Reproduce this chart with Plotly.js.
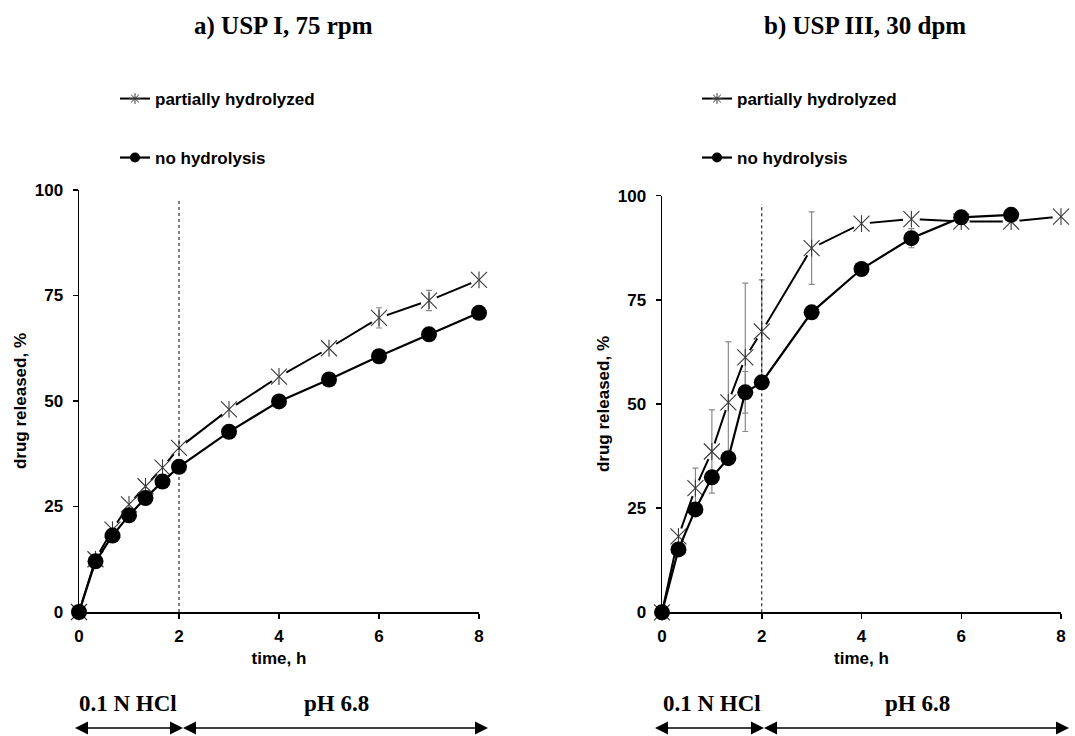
<!DOCTYPE html>
<html>
<head>
<meta charset="utf-8">
<script src="https://cdn.plot.ly/plotly-3.0.1.min.js"></script>
<style>html,body{margin:0;padding:0;background:#fff;}#chart{width:1075px;height:736px;}</style>
</head>
<body>
<div id="chart"></div>
<script>
// ---------- data ----------
const panelTitles = ['a) USP I, 75 rpm', 'b) USP III, 30 dpm'];
const seriesNames = ['partially hydrolyzed', 'no hydrolysis'];
const xTickVals = [0, 2, 4, 6, 8];
const yTickVals = [0, 25, 50, 75, 100];
const xTitle = 'time, h';
const yTitle = 'drug released, %';
const phaseLabels = ['0.1 N HCl', 'pH 6.8'];

const timeA = [0, 0.33, 0.67, 1, 1.33, 1.67, 2, 3, 4, 5, 6, 7, 8];
const partialA = [0, 12.5, 19.5, 25.5, 29.8, 34.2, 38.9, 48.0, 55.8, 62.5, 69.7, 73.8, 78.7];
const partialAErr = [0, 0, 0, 0, 0, 0, 0, 0, 0, 0, 2.4, 2.4, 0];
const noneA = [0, 12.0, 18.1, 22.9, 27.0, 30.9, 34.4, 42.7, 49.9, 55.1, 60.6, 65.8, 70.9];
const noneAErr = [0, 0, 0, 0, 0, 0, 0, 0, 0, 0, 0, 0, 0];

const timeB = [0, 0.33, 0.67, 1, 1.33, 1.67, 2, 3, 4, 5, 6, 7, 8];
const partialB = [0, 18.2, 29.8, 38.6, 50.4, 61.2, 67.4, 87.4, 93.3, 94.4, 93.8, 93.8, 95.0];
const partialBErr = [0, 0, 4.8, 10.0, 14.5, 17.8, 12.4, 8.7, 0, 0, 0, 0, 0];
const timeBNone = [0, 0.33, 0.67, 1, 1.33, 1.67, 2, 3, 4, 5, 6, 7];
const noneB = [0, 15.1, 24.7, 32.4, 37.0, 52.8, 55.2, 72.0, 82.4, 89.8, 94.8, 95.4];
const noneBErr = [0, 0, 0, 0, 0, 5.0, 0, 0, 0, 2.3, 0, 0];

// ---------- styling helpers ----------
const W = 1075, H = 736;
const fx = p => p / W;
const fy = p => 1 - p / H;
const SANS = 'Liberation Sans, Arial, sans-serif';
const SERIF = 'Liberation Serif, Times New Roman, serif';
const STAR_COL = '#3a3a3a';
const ERR_COL = '#8a8a8a';

function errSubset(x, y, e) {
  const xs = [], ys = [], es = [];
  for (let i = 0; i < x.length; i++) if (e[i] > 0) { xs.push(x[i]); ys.push(y[i]); es.push(e[i]); }
  return {x: xs, y: ys, e: es};
}

function panelTraces(xa, ya, tP, yP, eP, tN, yN, eN, legP, legN) {
  const common = {xaxis: xa, yaxis: ya, cliponaxis: false, hoverinfo: 'skip'};
  const out = [];
  // star series line (legend entry)
  out.push(Object.assign({}, common, {
    x: tP, y: yP, type: 'scatter', mode: 'lines+markers', name: seriesNames[0], legend: legP,
    line: {color: 'black', width: 2},
    marker: {symbol: 'asterisk-open', size: 9, color: STAR_COL, line: {width: 1, color: STAR_COL}}
  }));
  // white knock-out behind stars
  out.push(Object.assign({}, common, {
    x: tP, y: yP, type: 'scatter', mode: 'markers', showlegend: false,
    marker: {symbol: 'circle', size: 17, color: 'white', line: {width: 0}}
  }));
  // star error bars
  const sp = errSubset(tP, yP, eP);
  out.push(Object.assign({}, common, {
    x: sp.x, y: sp.y, type: 'scatter', mode: 'markers', showlegend: false,
    marker: {size: 1, color: 'rgba(0,0,0,0)'},
    error_y: {type: 'data', array: sp.e, visible: true, color: ERR_COL, thickness: 1.2, width: 3}
  }));
  // star markers (x + vertical bar = 6-arm asterisk)
  out.push(Object.assign({}, common, {
    x: tP, y: yP, type: 'scatter', mode: 'markers', showlegend: false,
    marker: {symbol: 'x-thin-open', size: 16, color: STAR_COL, line: {width: 1.1, color: STAR_COL}}
  }));
  out.push(Object.assign({}, common, {
    x: tP, y: yP, type: 'scatter', mode: 'markers', showlegend: false,
    marker: {symbol: 'line-ns-open', size: 12, color: STAR_COL, line: {width: 1.1, color: STAR_COL}}
  }));
  // circle series line (legend entry)
  out.push(Object.assign({}, common, {
    x: tN, y: yN, type: 'scatter', mode: 'lines+markers', name: seriesNames[1], legend: legN,
    line: {color: 'black', width: 2.2},
    marker: {symbol: 'circle', size: 10, color: 'black'}
  }));
  const np = errSubset(tN, yN, eN);
  if (np.x.length) {
    out.push(Object.assign({}, common, {
      x: np.x, y: np.y, type: 'scatter', mode: 'markers', showlegend: false,
      marker: {size: 1, color: 'rgba(0,0,0,0)'},
      error_y: {type: 'data', array: np.e, visible: true, color: ERR_COL, thickness: 1.2, width: 3}
    }));
  }
  out.push(Object.assign({}, common, {
    x: tN, y: yN, type: 'scatter', mode: 'markers', showlegend: false,
    marker: {symbol: 'circle', size: 16, color: 'black'}
  }));
  return out;
}

const data = [].concat(
  panelTraces('x', 'y', timeA, partialA, partialAErr, timeA, noneA, noneAErr, 'legend', 'legend2'),
  panelTraces('x2', 'y2', timeB, partialB, partialBErr, timeBNone, noneB, noneBErr, 'legend3', 'legend4')
);

const tickFont = {family: SANS, size: 17, color: 'black', weight: 'bold'};
function xAxis(domain, anchor) {
  return {
    domain: domain, anchor: anchor, range: [0, 8], tickvals: xTickVals, ticktext: xTickVals.map(String),
    showgrid: false, zeroline: false, showline: true, linecolor: 'black', linewidth: 1.5,
    ticks: 'outside', ticklen: 5, tickwidth: 1.5, tickcolor: 'black', tickfont: tickFont,
    ticklabelstandoff: 3,
    title: {text: xTitle, font: tickFont, standoff: 7}
  };
}
function yAxis(domain, anchor) {
  return {
    domain: domain, anchor: anchor, range: [0, 100], tickvals: yTickVals, ticktext: yTickVals.map(String),
    showgrid: false, zeroline: false, showline: true, linecolor: 'black', linewidth: 1.5,
    ticks: 'outside', ticklen: 5, tickwidth: 1.5, tickcolor: 'black', tickfont: tickFont,
    ticklabelstandoff: 6,
    title: {text: yTitle, font: tickFont, standoff: 4}
  };
}

const legendFont = {family: SANS, size: 17, color: 'black', weight: 'bold'};
function legendAt(px, py) {
  return {x: fx(px), y: fy(py), xanchor: 'left', yanchor: 'middle', xref: 'paper', yref: 'paper',
          font: legendFont, bgcolor: 'rgba(0,0,0,0)', borderwidth: 0, itemwidth: 30};
}

// shapes: dotted phase-change line and phase arrows
const shapes = [
  {type: 'line', xref: 'x', yref: 'y', x0: 2, x1: 2, y0: 0, y1: 97.5, line: {color: 'black', width: 1, dash: 'dot'}},
  {type: 'line', xref: 'x2', yref: 'y2', x0: 2, x1: 2, y0: 0, y1: 98, line: {color: 'black', width: 1, dash: 'dot'}}
];
function addArrow(x0, x1, y) {
  const hl = 13, hh = 6.5;
  shapes.push({type: 'line', xref: 'paper', yref: 'paper', x0: fx(x0 + hl - 1), x1: fx(x1 - hl + 1), y0: fy(y), y1: fy(y),
               line: {color: 'black', width: 1.5}});
  shapes.push({type: 'path', xref: 'paper', yref: 'paper', fillcolor: 'black', line: {width: 0},
               path: `M${fx(x0)},${fy(y)} L${fx(x0 + hl)},${fy(y - hh)} L${fx(x0 + hl)},${fy(y + hh)} Z`});
  shapes.push({type: 'path', xref: 'paper', yref: 'paper', fillcolor: 'black', line: {width: 0},
               path: `M${fx(x1)},${fy(y)} L${fx(x1 - hl)},${fy(y - hh)} L${fx(x1 - hl)},${fy(y + hh)} Z`});
}
addArrow(75, 183, 728);
addArrow(183, 488, 728);
addArrow(655, 764, 728);
addArrow(764, 1069, 728);

const titleFont = {family: SERIF, size: 25, color: 'black', weight: 'bold'};
const phaseFont = {family: SERIF, size: 23, color: 'black', weight: 'bold'};
const annotations = [
  {text: panelTitles[0], xref: 'paper', yref: 'paper', x: fx(283), y: fy(26), xanchor: 'center', yanchor: 'middle', showarrow: false, font: titleFont},
  {text: panelTitles[1], xref: 'paper', yref: 'paper', x: fx(865), y: fy(26), xanchor: 'center', yanchor: 'middle', showarrow: false, font: titleFont},
  {text: phaseLabels[0], xref: 'paper', yref: 'paper', x: fx(128), y: fy(703), xanchor: 'center', yanchor: 'middle', showarrow: false, font: phaseFont},
  {text: phaseLabels[1], xref: 'paper', yref: 'paper', x: fx(336), y: fy(703), xanchor: 'center', yanchor: 'middle', showarrow: false, font: phaseFont},
  {text: phaseLabels[0], xref: 'paper', yref: 'paper', x: fx(712), y: fy(703), xanchor: 'center', yanchor: 'middle', showarrow: false, font: phaseFont},
  {text: phaseLabels[1], xref: 'paper', yref: 'paper', x: fx(917), y: fy(703), xanchor: 'center', yanchor: 'middle', showarrow: false, font: phaseFont}
];

const layout = {
  width: W, height: H,
  margin: {l: 0, r: 0, t: 0, b: 0},
  paper_bgcolor: 'white', plot_bgcolor: 'white',
  showlegend: true,
  xaxis: xAxis([fx(79), fx(479)], 'y'),
  yaxis: yAxis([fy(612), fy(190)], 'x'),
  xaxis2: xAxis([fx(662), fx(1061)], 'y2'),
  yaxis2: yAxis([fy(612.3), fy(195.7)], 'x2'),
  legend: legendAt(115, 99),
  legend2: legendAt(115, 158),
  legend3: legendAt(697, 99),
  legend4: legendAt(697, 158),
  shapes: shapes,
  annotations: annotations
};

Plotly.newPlot('chart', data, layout, {displayModeBar: false, staticPlot: true});
</script>
</body>
</html>
